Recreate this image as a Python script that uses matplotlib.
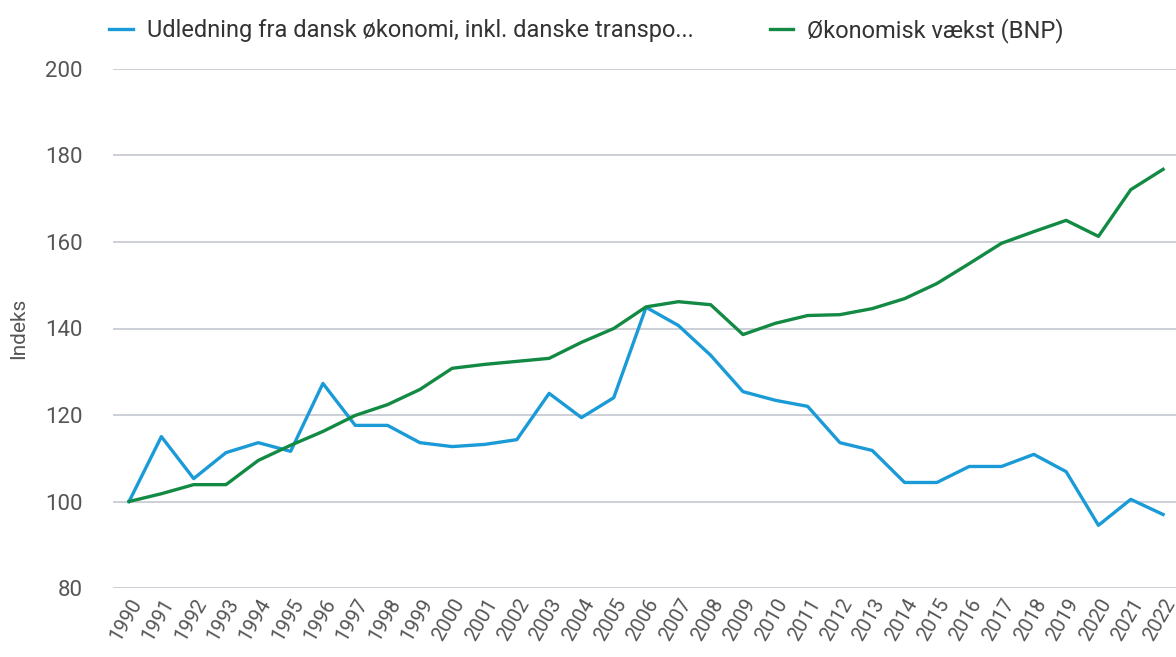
import matplotlib.pyplot as plt
import numpy as np

years = list(range(1990, 2023))

udledning = [100, 115, 105.3, 111.3, 113.6, 111.6, 127.3, 117.6, 117.6, 113.6,
             112.7, 113.2, 114.3, 125, 119.4, 124, 144.9, 140.7, 133.8, 125.4,
             123.4, 122, 113.6, 111.8, 104.4, 104.4, 108.1, 108.1, 110.9, 106.9,
             94.5, 100.5, 97]
bnp = [100, 101.8, 103.9, 103.9, 109.5, 113, 116.2, 119.9, 122.4, 125.9,
       130.8, 131.7, 132.4, 133.1, 136.8, 140, 145, 146.2, 145.5, 138.6,
       141.2, 143, 143.2, 144.6, 146.9, 150.4, 155, 159.7, 162.4, 165,
       161.3, 172.1, 176.8]

labels = ["Udledning fra dansk økonomi, inkl. danske transpo...", "Økonomisk vækst (BNP)"]

plt.rcParams['font.family'] = ['Roboto', 'DejaVu Sans']
text_color = '#555555'

fig = plt.figure(figsize=(11.76, 6.57), dpi=100)
ax = fig.add_axes([0.096, 0.105, 0.904, 0.79])

ax.plot(years, udledning, color='#1a9bd7', lw=2.4, label=labels[0])
ax.plot(years, bnp, color='#138a43', lw=2.4, label=labels[1])

ax.set_xlim(1989.5, 2022.4)
ax.set_ylim(80, 200)
ax.set_yticks(np.arange(80, 201, 20))
ax.set_xticks(years)
ax.set_xticklabels([str(y) for y in years], rotation=60, ha='right',
                   rotation_mode='anchor', fontsize=14.5, color=text_color)
ax.tick_params(axis='y', labelsize=16, labelcolor=text_color, length=0, pad=22)
ax.tick_params(axis='x', length=0, pad=5)
ax.grid(axis='y', color='#c8ccd3', lw=1.3)
ax.set_axisbelow(True)
for s in ax.spines.values():
    s.set_visible(False)

ax.set_ylabel('Indeks', fontsize=15, color=text_color, labelpad=12)

fig.legend(loc='upper left', bbox_to_anchor=(0.075, 1.005), ncol=2, frameon=False,
           fontsize=17, handlelength=1.0, handletextpad=0.6, columnspacing=3.2,
           labelcolor='#333333')

fig.savefig('out.png', dpi=100)
